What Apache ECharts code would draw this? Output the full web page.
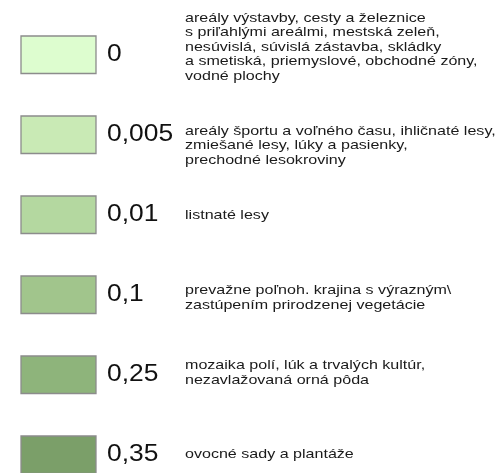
<!DOCTYPE html>
<html>
<head>
<meta charset="utf-8">
<script src="https://cdn.jsdelivr.net/npm/echarts@6/dist/echarts.min.js"></script>
<style>html,body{margin:0;padding:0;background:#fff;}#c{width:502px;height:473px;}</style>
</head>
<body>
<div id="c"></div>
<script>
var rows = ['r1','r2','r3','r4','r5','r6'];
var values = ['0','0,005','0,01','0,1','0,25','0,35'];
var descriptions = [
  'areály výstavby, cesty a železnice\ns priľahlými areálmi, mestská zeleň,\nnesúvislá, súvislá zástavba, skládky\na smetiská, priemyslové, obchodné zóny,\nvodné plochy',
  'areály športu a voľného času, ihličnaté lesy,\nzmiešané lesy, lúky a pasienky,\nprechodné lesokroviny',
  'listnaté lesy',
  'prevažne poľnoh. krajina s výrazným\\\nzastúpením prirodzenej vegetácie',
  'mozaika polí, lúk a trvalých kultúr,\nnezavlažovaná orná pôda',
  'ovocné sady a plantáže'
];
var colors = ['#ddfdcf','#c9eab5','#b4d8a0','#a1c58c','#8eb47b','#7b9f69'];
var descOffsets = [-7.5, 11, 1, 3, -2, 0];

var FONT = 'Liberation Sans, Arial, sans-serif';
var chart = echarts.init(document.getElementById('c'), null, {renderer:'canvas'});
var data = rows.map(function(r){ return ['swatch', r]; });

chart.setOption({
  animation:false,
  backgroundColor:'#ffffff',
  grid:{left:21, width:75, top:54.5, bottom:18.5},
  xAxis:{type:'category', data:['swatch'], show:false},
  yAxis:{type:'category', data:rows, inverse:true, boundaryGap:false, show:false},
  series:[{
    type:'custom',
    data:data,
    clip:false,
    silent:true,
    renderItem:function(params, api){
      var i = params.dataIndex;
      var p = api.coord([api.value(0), api.value(1)]);
      return {type:'group', children:[
        {type:'rect', shape:{x:p[0]-37.5, y:p[1]-18.5, width:75, height:37.5},
         style:{fill:colors[i], stroke:'#8c8c8c', lineWidth:1.3}},
        {type:'text', x:p[0]+48.5, y:p[1], scaleX:1.1,
         style:{text:values[i], font:'24px ' + FONT, fill:'#111', verticalAlign:'middle', align:'left'}},
        {type:'text', x:p[0]+126.5, y:p[1]+descOffsets[i], scaleX:1.19,
         style:{text:descriptions[i], fontSize:13.5, fontFamily:FONT, lineHeight:14.6,
           fill:'#1a1a1a', verticalAlign:'middle', align:'left'}}
      ]};
    }
  }]
});
</script>
</body>
</html>
